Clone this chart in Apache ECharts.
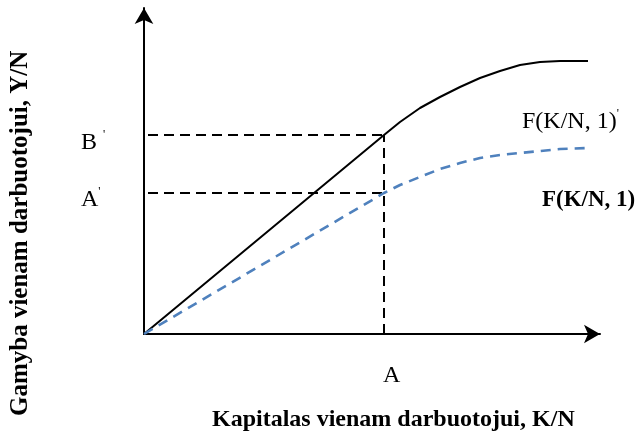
<!DOCTYPE html>
<html lang="lt">
<head>
  <meta charset="UTF-8">
  <title>Gamybos funkcija</title>
  <style>
    html, body { margin: 0; padding: 0; background: #fff; }
  </style>
</head>
<body>
  <div id="main" style="width: 643px;height:434px;"></div>
  <script src="https://cdn.jsdelivr.net/npm/echarts@6.0.0/dist/echarts.min.js"></script>
  <script type="text/javascript">
    // kapitalas vienam darbuotojui (K/N), santykiniai vienetai
    var kNew = [0, 24, 25.6, 27.6, 29.6, 31.6, 33.6, 35.6, 37.6, 39.6, 41.6, 44.4];
    var yNew = [0, 19.9, 21.2, 22.6, 23.7, 24.7, 25.6, 26.3, 26.9, 27.2, 27.3, 27.3];   // F(K/N, 1)'
    var kOld = [0, 24, 25.6, 27.6, 29.6, 31.6, 33.6, 35.6, 37.6, 39.6, 41.6, 44.4];
    var yOld = [0, 14.1, 14.9, 15.7, 16.5, 17.1, 17.6, 17.9, 18.1, 18.3, 18.5, 18.6];   // F(K/N, 1)

    var pointA = 24;      // A
    var levelB = 19.9;    // B'
    var levelA = 14.1;    // A'
    var xMax = 45.6;
    var yMax = 32.6;

    function pairs(xs, ys) {
      return xs.map(function (x, i) { return [x, ys[i]]; });
    }

    var serif = 'Liberation Serif';
    var myChart = echarts.init(document.getElementById('main'));

    var guide = { color: '#000', width: 2, type: [10, 6] };
    var primeRich = { p: { fontSize: 12, fontFamily: serif, padding: [0, 0, 16, 0] } };

    function textEl(left, top, text, font) {
      return {
        type: 'text',
        left: left,
        top: top,
        style: { text: text, font: font, fill: '#000', rich: primeRich }
      };
    }

    var option = {
      backgroundColor: '#ffffff',
      animation: false,
      grid: { left: 144, right: 43, top: 8, bottom: 100 },
      xAxis: {
        type: 'value',
        min: 0,
        max: xMax,
        splitLine: { show: false },
        axisTick: { show: false },
        axisLabel: { show: false },
        axisLine: {
          lineStyle: { color: '#000', width: 2 },
          symbol: ['none', 'arrow'],
          symbolSize: [14, 16]
        }
      },
      yAxis: {
        type: 'value',
        min: 0,
        max: yMax,
        splitLine: { show: false },
        axisTick: { show: false },
        axisLabel: { show: false },
        axisLine: {
          lineStyle: { color: '#000', width: 2 },
          symbol: ['none', 'arrow'],
          symbolSize: [14, 16]
        }
      },
      series: [
        {
          name: "F(K/N, 1)'",
          type: 'line',
          data: pairs(kNew, yNew),
          showSymbol: false,
          lineStyle: { color: '#000', width: 2 },
          z: 3
        },
        {
          name: 'F(K/N, 1)',
          type: 'line',
          data: pairs(kOld, yOld),
          showSymbol: false,
          lineStyle: { color: '#4f81bd', width: 2.6, type: [10, 7] },
          z: 3
        },
        {
          name: 'B',
          type: 'line',
          data: [[0.4, levelB], [pointA, levelB]],
          showSymbol: false,
          lineStyle: guide,
          z: 2
        },
        {
          name: 'A',
          type: 'line',
          data: [[0.4, levelA], [pointA, levelA]],
          showSymbol: false,
          lineStyle: guide,
          z: 2
        },
        {
          name: 'vertikali',
          type: 'line',
          data: [[pointA, 0], [pointA, levelB]],
          showSymbol: false,
          lineStyle: guide,
          z: 2
        }
      ],
      graphic: [
        textEl(383, 364, 'A', '24px "Liberation Serif"'),
        textEl(81, 129, 'B {p|\'}', '24px "Liberation Serif"'),
        textEl(81, 186, 'A{p|\'}', '24px "Liberation Serif"'),
        textEl(522, 108, 'F(K/N, 1){p|\'}', '24px "Liberation Serif"'),
        textEl(542, 189, 'F(K/N, 1)', 'bold 23px "Liberation Serif"'),
        textEl(212, 408, 'Kapitalas vienam darbuotojui, K/N', 'bold 24px "Liberation Serif"'),
        {
          type: 'text',
          x: 8,
          y: 416,
          rotation: Math.PI / 2,
          style: {
            text: 'Gamyba vienam darbuotojui, Y/N',
            font: 'bold 25px "Liberation Serif"',
            fill: '#000'
          }
        }
      ]
    };

    myChart.setOption(option);
  </script>
</body>
</html>
